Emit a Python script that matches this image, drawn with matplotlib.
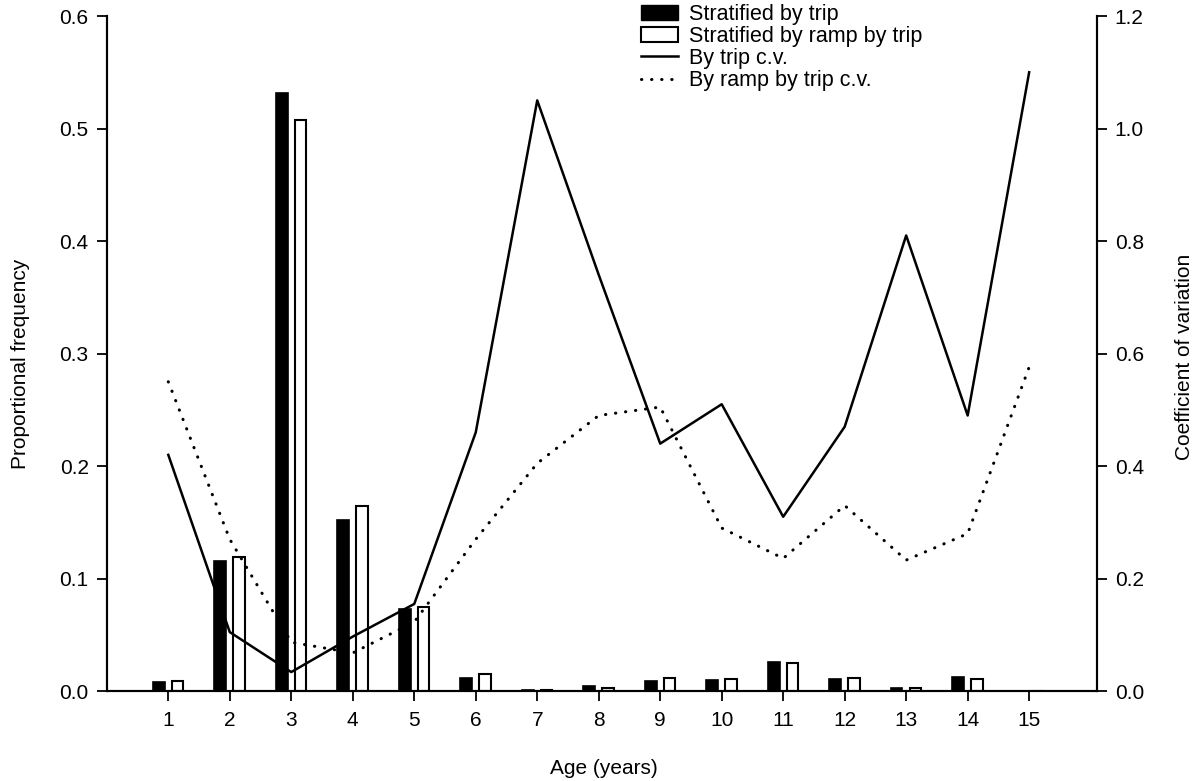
import numpy as np
import matplotlib.pyplot as plt
from matplotlib.patches import Patch
from matplotlib.lines import Line2D

plt.rcParams['font.family'] = ['Liberation Sans', 'DejaVu Sans']

ages = np.arange(1, 16)
by_trip = [0.008, 0.116, 0.532, 0.152, 0.073, 0.012, 0.001, 0.005, 0.009, 0.010,
           0.026, 0.011, 0.003, 0.013, 0.0005]
by_ramp = [0.009, 0.119, 0.508, 0.165, 0.075, 0.015, 0.001, 0.003, 0.012, 0.011,
           0.025, 0.012, 0.003, 0.011, 0.0005]
cv_trip = [0.42, 0.105, 0.034, 0.097, 0.155, 0.46, 1.05, 0.74, 0.44, 0.51,
           0.31, 0.47, 0.81, 0.49, 1.10]
cv_ramp = [0.55, 0.27, 0.087, 0.068, 0.123, 0.27, 0.405, 0.49, 0.505, 0.29,
           0.236, 0.33, 0.233, 0.28, 0.576]

dots = (0, (0.1, 3.2))

fig = plt.figure(figsize=(12, 7.81), dpi=100)
ax1 = fig.add_axes([0.089, 0.115, 0.825, 0.8645])
ax2 = ax1.twinx()

w = 0.19
ax1.bar(ages - 0.155, by_trip, width=w, color='black', edgecolor='black', linewidth=1.2)
ax1.bar(ages + 0.15, by_ramp, width=w, color='white', edgecolor='black', linewidth=1.5)

ax2.plot(ages, cv_trip, color='black', linestyle='-', linewidth=1.8)
ax2.plot(ages, cv_ramp, color='black', linestyle=dots, linewidth=2.2,
         dash_capstyle='round')

ax1.set_xlim(0, 16.1)
ax1.set_ylim(0, 0.6)
ax2.set_ylim(0, 1.2)
ax1.set_xticks(ages)
ax1.set_yticks(np.arange(0, 0.61, 0.1))
ax2.set_yticks(np.arange(0, 1.21, 0.2))
ax1.set_yticklabels([f'{v:.1f}' for v in np.arange(0, 0.61, 0.1)])
ax2.set_yticklabels([f'{v:.1f}' for v in np.arange(0, 1.21, 0.2)])

for ax in (ax1, ax2):
    ax.spines['top'].set_visible(False)
    for s in ax.spines.values():
        s.set_linewidth(1.5)
    ax.tick_params(direction='out', length=7, width=1.3, labelsize=15, pad=6)
ax1.tick_params(axis='x', pad=7)

ax1.set_xlabel('Age (years)', fontsize=15, va='center')
ax1.xaxis.set_label_coords(0.502, -0.114)
ax1.set_ylabel('Proportional frequency', fontsize=15, va='center')
ax1.yaxis.set_label_coords(-0.087, 0.485)
ax2.set_ylabel('Coefficient of variation', fontsize=15, va='center', rotation=90)
ax2.yaxis.set_label_coords(1.089, 0.495)

handles = [
    Patch(facecolor='black', edgecolor='black'),
    Patch(facecolor='white', edgecolor='black', linewidth=1.5),
    Line2D([], [], color='black', linestyle='-', linewidth=1.8),
    Line2D([], [], color='black', linestyle=dots, linewidth=2.2,
           dash_capstyle='round'),
]
labels = ['Stratified by trip', 'Stratified by ramp by trip',
          'By trip c.v.', 'By ramp by trip c.v.']
ax2.legend(handles, labels, loc='upper left', bbox_to_anchor=(0.54, 1.018),
           frameon=False, fontsize=15.5, handlelength=1.7, handleheight=0.7,
           handletextpad=0.5, labelspacing=0.05, borderaxespad=0, borderpad=0)

plt.savefig('out.png', dpi=100)
